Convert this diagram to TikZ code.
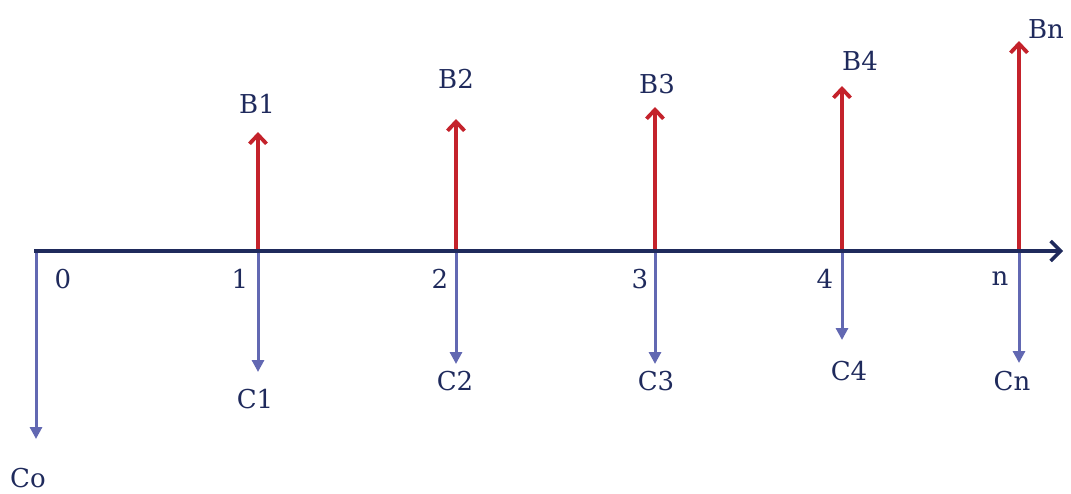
\documentclass[tikz,border=0pt]{standalone}
\usepackage{fontspec}
\setmainfont{DejaVu Serif}
\usetikzlibrary{arrows.meta}
\definecolor{navy}{HTML}{1F2A5C}
\definecolor{cred}{HTML}{C4222B}
\definecolor{cblue}{HTML}{6268B2}
\begin{document}
\begin{tikzpicture}[x=1pt,y=-1pt,
  lbl/.style={text=navy,font=\fontsize{26}{30}\selectfont,inner sep=0pt},
  axisline/.style={draw=navy,line width=3.5pt,-{Straight Barb[length=10pt,width=20pt,line width=3.5pt]}},
  benefit/.style={draw=cred,line width=3.8pt,-{Straight Barb[length=9pt,width=17pt,line width=3.8pt]}},
  cost/.style={draw=cblue,line width=3pt,-{Triangle[length=12pt,width=12pt]}}]
\useasboundingbox (0,0) rectangle (1071,493);
% axis points
\coordinate (a0) at (36,251);
\coordinate (a1) at (258,251);
\coordinate (a2) at (456,251);
\coordinate (a3) at (655,251);
\coordinate (a4) at (842,251);
\coordinate (an) at (1019,251);
\coordinate (aend) at (1063,251);
\coordinate (astart) at (34,251);
% benefit tips
\coordinate (b1) at (258,132);
\coordinate (b2) at (456,119);
\coordinate (b3) at (655,107);
\coordinate (b4) at (842,86);
\coordinate (bn) at (1019,41);
% cost tips
\coordinate (c0) at (36,439);
\coordinate (c1) at (258,372);
\coordinate (c2) at (456,364);
\coordinate (c3) at (655,364);
\coordinate (c4) at (842,340);
\coordinate (cn) at (1019,363);
% arrows
\foreach \i in {1,2,3,4,n} \draw[benefit] (a\i) -- (b\i);
\foreach \i in {0,1,2,3,4,n} \draw[cost] (a\i) -- (c\i);
\draw[axisline] (astart) -- (aend);
% labels
\node[lbl] (t0) at (63,279) {0};
\node[lbl] (t1) at (240,279) {1};
\node[lbl] (t2) at (440,279) {2};
\node[lbl] (t3) at (640,279) {3};
\node[lbl] (t4) at (825,279) {4};
\node[lbl] (tn) at (1000,279) {n};
\node[lbl] (lb1) at (257,104) {B1};
\node[lbl] (lb2) at (456,79) {B2};
\node[lbl] (lb3) at (657,84) {B3};
\node[lbl] (lb4) at (860,61) {B4};
\node[lbl] (lbn) at (1046,29) {Bn};
\node[lbl] (lc0) at (28,478) {Co};
\node[lbl] (lc1) at (255,399) {C1};
\node[lbl] (lc2) at (455,381) {C2};
\node[lbl] (lc3) at (656,381) {C3};
\node[lbl] (lc4) at (849,371) {C4};
\node[lbl] (lcn) at (1012,381) {Cn};
\end{tikzpicture}
\end{document}
